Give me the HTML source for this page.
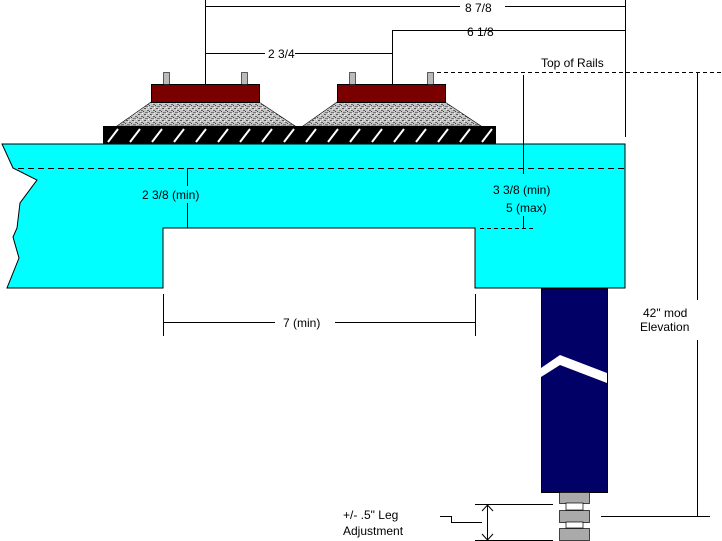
<!DOCTYPE html>
<html><head><style>body{margin:0;background:#fff}svg{display:block}text{font-family:"Liberation Sans",sans-serif;font-size:12px;fill:#000}</style></head><body>
<svg width="722" height="541" viewBox="0 0 722 541">
<defs>
<pattern id="bal" width="6" height="6" patternUnits="userSpaceOnUse"><rect width="6" height="6" fill="#c4c4c4"/><rect x="0" y="0" width="2" height="1" fill="#555"/><rect x="3" y="2" width="2" height="1" fill="#666"/><rect x="1" y="4" width="3" height="1" fill="#777"/><rect x="4" y="5" width="1" height="1" fill="#f4f4f4"/><rect x="2" y="1" width="1" height="1" fill="#eee"/><rect x="5" y="3" width="1" height="1" fill="#444"/></pattern>
</defs>
<g stroke="#000" stroke-width="1" fill="none">
<line x1="205" y1="6.5" x2="625" y2="6.5"/>
<line x1="205.5" y1="0" x2="205.5" y2="84"/>
<line x1="625.5" y1="0" x2="625.5" y2="137"/>
<line x1="392" y1="30.5" x2="625" y2="30.5"/>
<line x1="392.5" y1="30" x2="392.5" y2="84"/>
<line x1="205" y1="53.5" x2="265" y2="53.5"/>
<line x1="295" y1="53.5" x2="392" y2="53.5"/>
<line x1="437" y1="72.5" x2="722" y2="72.5" stroke-dasharray="4,3"/>
<line x1="697.5" y1="72" x2="697.5" y2="300"/>
<line x1="697.5" y1="340" x2="697.5" y2="516"/>
<line x1="601" y1="516.5" x2="710" y2="516.5"/>
</g>
<rect x="460" y="0" width="45" height="14" fill="#fff"/>
<text x="465" y="12">8 7/8</text>
<text x="467" y="36">6 1/8</text>
<text x="268" y="58">2 3/4</text>
<text x="541" y="67">Top of Rails</text>
<polygon points="2,144 625,144 625,288 475,288 475,228 163,228 163,288 7,288 19,258 13,237 17,228 20,203 37,180 13,168" fill="#00ffff" stroke="#000" stroke-width="1"/>
<line x1="18" y1="168.5" x2="625" y2="168.5" stroke="#000" stroke-dasharray="6,4"/>
<line x1="480" y1="228.5" x2="533" y2="228.5" stroke="#000" stroke-dasharray="4,3"/>
<line x1="187.5" y1="168" x2="187.5" y2="186" stroke="#000"/>
<line x1="187.5" y1="203" x2="187.5" y2="228" stroke="#000"/>
<line x1="523.5" y1="75" x2="523.5" y2="174" stroke="#000"/>
<line x1="523.5" y1="216" x2="523.5" y2="228" stroke="#000"/>
<text x="142" y="199">2 3/8 (min)</text>
<text x="493" y="194">3 3/8 (min)</text>
<text x="506" y="212">5 (max)</text>
<rect x="103.5" y="126.5" width="392" height="17" fill="#000" stroke="#000"/>
<g stroke="#fff" stroke-width="2">
<line x1="108" y1="142" x2="118" y2="129"/><line x1="130" y1="142" x2="140" y2="129"/><line x1="152" y1="142" x2="162" y2="129"/><line x1="174" y1="142" x2="184" y2="129"/><line x1="196" y1="142" x2="206" y2="129"/><line x1="218" y1="142" x2="228" y2="129"/><line x1="240" y1="142" x2="250" y2="129"/><line x1="262" y1="142" x2="272" y2="129"/><line x1="284" y1="142" x2="294" y2="129"/><line x1="306" y1="142" x2="316" y2="129"/><line x1="328" y1="142" x2="338" y2="129"/><line x1="350" y1="142" x2="360" y2="129"/><line x1="372" y1="142" x2="382" y2="129"/><line x1="394" y1="142" x2="404" y2="129"/><line x1="416" y1="142" x2="426" y2="129"/><line x1="438" y1="142" x2="448" y2="129"/><line x1="460" y1="142" x2="470" y2="129"/><line x1="482" y1="142" x2="492" y2="129"/>
</g>
<polygon points="117,126 151,102 259,102 295,126" fill="url(#bal)" stroke="#000" stroke-width="0.6"/>
<polygon points="303,126 337,102 445,102 481,126" fill="url(#bal)" stroke="#000" stroke-width="0.6"/>
<rect x="151.5" y="84.5" width="108" height="18" fill="#7a0000" stroke="#000"/>
<rect x="337.5" y="84.5" width="108" height="18" fill="#7a0000" stroke="#000"/>
<g fill="#bbb" stroke="#000" stroke-width="0.6">
<rect x="163.5" y="72.5" width="6" height="12"/><rect x="241.5" y="72.5" width="6" height="12"/><rect x="349.5" y="72.5" width="6" height="12"/><rect x="427.5" y="72.5" width="6" height="12"/>
</g>
<g stroke="#000"><line x1="163.5" y1="294" x2="163.5" y2="336"/><line x1="475.5" y1="294" x2="475.5" y2="336"/><line x1="163" y1="322.5" x2="275" y2="322.5"/><line x1="335" y1="322.5" x2="475" y2="322.5"/></g>
<text x="283" y="327">7 (min)</text>
<rect x="541.5" y="288.5" width="66" height="204" fill="#000066" stroke="#000"/>
<polygon points="541,368 560,355 607,373 607,383 560,365 541,377" fill="#fff"/>
<g fill="#aaa" stroke="#000" stroke-width="0.7">
<rect x="559.5" y="492.5" width="30" height="11"/><rect x="559.5" y="510.5" width="30" height="12"/><rect x="559.5" y="528.5" width="30" height="12"/>
<rect x="566" y="503" width="17" height="7" fill="#fff"/><rect x="566" y="522" width="17" height="6" fill="#fff"/>
</g>
<text x="643" y="317">42" mod</text>
<text x="640" y="331">Elevation</text>
<g stroke="#000" fill="none">
<line x1="475" y1="504.5" x2="553" y2="504.5"/><line x1="475" y1="540.5" x2="553" y2="540.5"/>
<line x1="487.5" y1="505" x2="487.5" y2="540"/>
<polyline points="482,511 487.5,505 493,511"/><polyline points="482,534 487.5,540 493,534"/>
<polyline points="440,516.5 451.5,516.5 451.5,522.5 482,522.5"/>
</g>
<text x="343" y="519">+/- .5" Leg</text>
<text x="343" y="535">Adjustment</text>
</svg>
</body></html>
